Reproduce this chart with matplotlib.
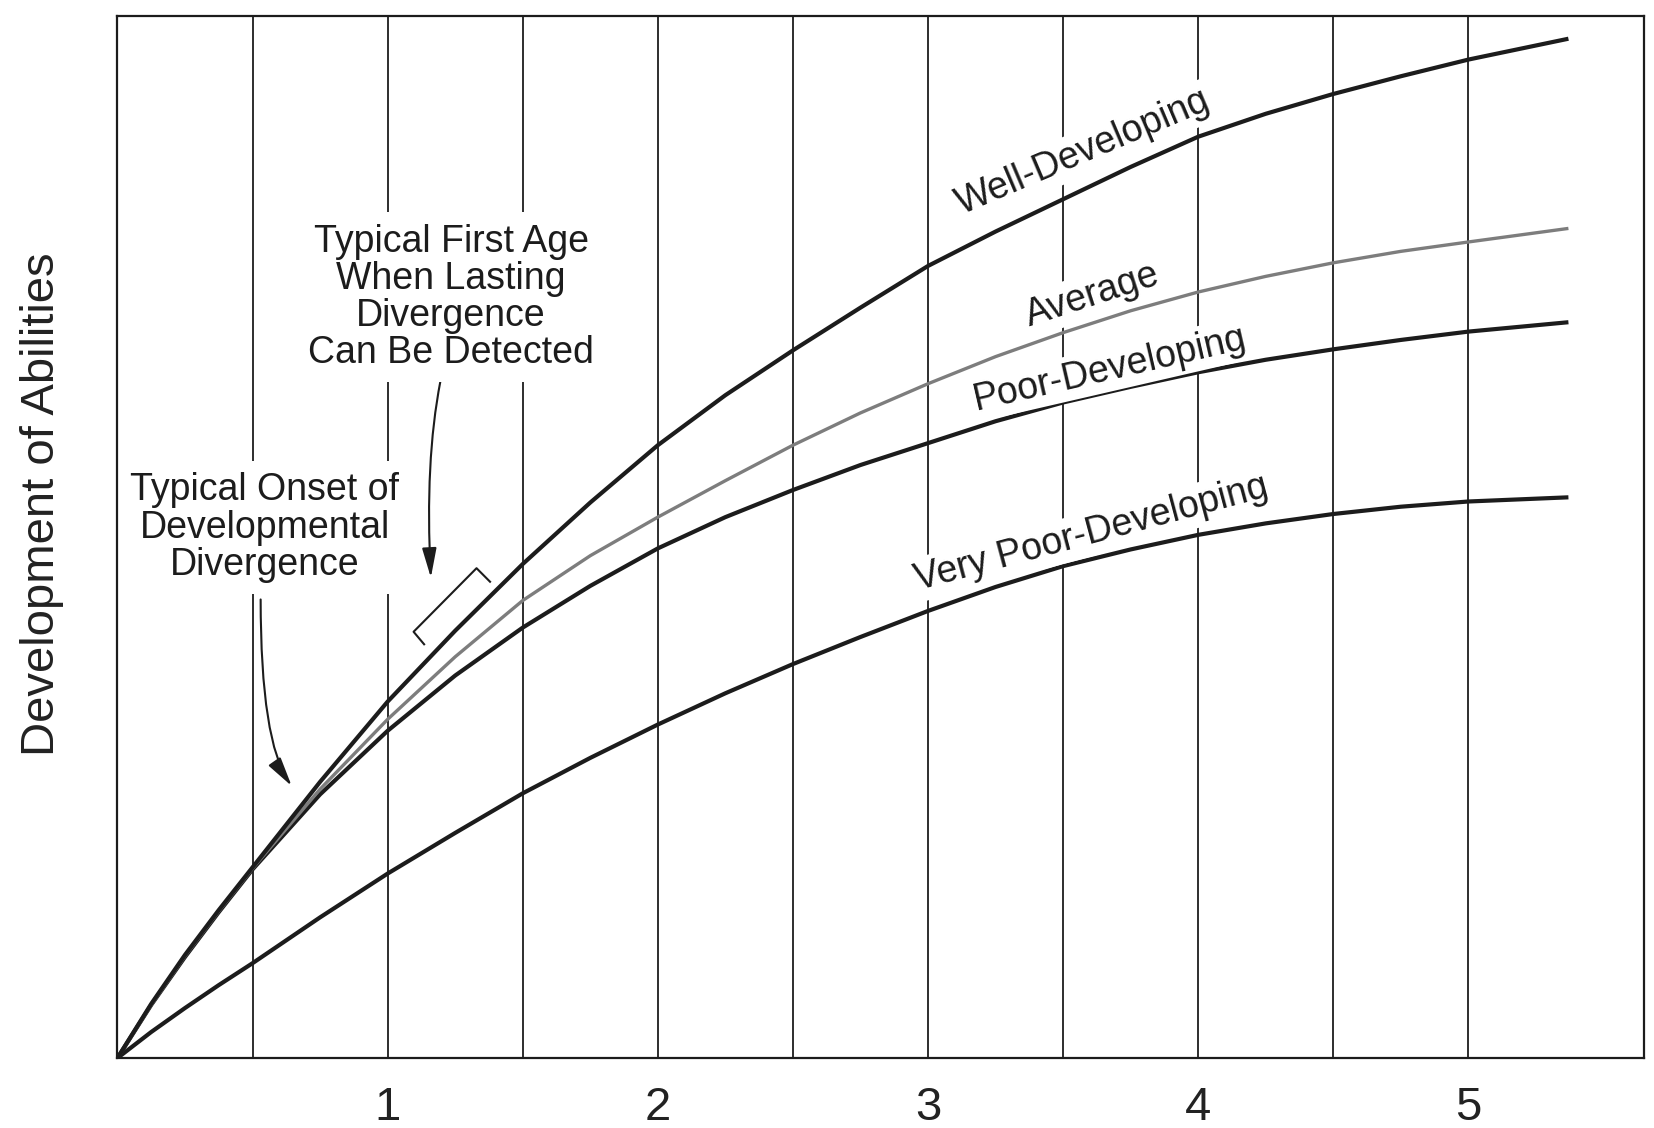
import numpy as np
import matplotlib.pyplot as plt

plt.rcParams['font.family'] = ['Liberation Sans', 'DejaVu Sans']

# age (years) at which curves were read
age = [0, 0.125, 0.25, 0.375, 0.5, 0.75, 1.0, 1.25, 1.5, 1.75, 2.0, 2.25, 2.5, 2.75,
       3.0, 3.25, 3.5, 3.75, 4.0, 4.25, 4.5, 4.75, 5.0, 5.37]

# development of abilities (0 = bottom, 100 = top of frame)
well = [0, 5.2, 9.9, 14.2, 18.3, 26.5, 34.2, 41.0, 47.4, 53.3, 58.8, 63.6, 67.9, 72.0,
        76.0, 79.3, 82.4, 85.5, 88.4, 90.6, 92.5, 94.2, 95.8, 97.8]
average = [0, 5.1, 9.8, 14.1, 18.2, 25.8, 32.5, 38.5, 43.9, 48.2, 51.9, 55.4, 58.8, 61.9,
           64.7, 67.3, 69.6, 71.7, 73.5, 75.0, 76.3, 77.4, 78.3, 79.6]
poor = [0, 5.1, 9.7, 14.0, 18.1, 25.3, 31.4, 36.7, 41.3, 45.3, 48.9, 51.9, 54.5, 56.9,
        59.0, 61.1, 62.9, 64.4, 65.8, 67.0, 68.0, 68.9, 69.7, 70.6]
very_poor = [0, 2.5, 4.8, 7.0, 9.1, 13.5, 17.7, 21.6, 25.4, 28.8, 32.0, 35.0, 37.8, 40.4,
             42.9, 45.2, 47.2, 48.8, 50.2, 51.3, 52.2, 52.9, 53.4, 53.8]

grid_x = [0.5, 1.0, 1.5, 2.0, 2.5, 3.0, 3.5, 4.0, 4.5, 5.0]
tick_x = [1, 2, 3, 4, 5]
tick_labels = ['1', '2', '3', '4', '5']

ink = '#1c1c1c'

fig = plt.figure(figsize=(16.54, 11.28), dpi=100)
ax = fig.add_axes([0.071, 0.062, 0.923, 0.924])
ax.set_xlim(0, 5.65)
ax.set_ylim(0, 100)

for gx in grid_x:
    ax.axvline(gx, color=ink, lw=1.3, zorder=1)

ax.plot(age, very_poor, color=ink, lw=3.0, zorder=3, solid_capstyle='butt')
ax.plot(age, poor, color=ink, lw=3.0, zorder=3, solid_capstyle='butt')
ax.plot(age, average, color='#7d7d7d', lw=2.4, zorder=3, solid_capstyle='butt')
ax.plot(age, well, color=ink, lw=3.0, zorder=4, solid_capstyle='butt')

for s in ax.spines.values():
    s.set_linewidth(1.6)
    s.set_color(ink)

ax.set_xticks(tick_x)
ax.set_xticklabels(tick_labels, fontsize=34, color='#222222')
ax.tick_params(axis='x', length=0, pad=20)
ax.set_yticks([])

fig.text(0.0255, 0.553, 'Development of Abilities', rotation=90,
         ha='center', va='center', fontsize=34, color='#222222')

box = dict(facecolor='white', edgecolor='none', pad=3)
lab = dict(fontsize=27, color=ink, ha='center', va='center',
           rotation_mode='anchor', bbox=box, zorder=5)
ax.text(3.575, 86.9, 'Well-Developing', rotation=23, **lab)
ax.text(3.607, 73.2, 'Average', rotation=18, **lab)
ax.text(3.672, 66.1, 'Poor-Developing', rotation=13, **lab)
ax.text(3.603, 50.3, 'Very Poor-Developing', rotation=15, **lab)

ax.text(1.235, 73.0, 'Typical First Age\nWhen Lasting\nDivergence\nCan Be Detected',
        fontsize=27, color=ink, ha='center', va='center', linespacing=1.04,
        bbox=dict(facecolor='white', edgecolor='none', pad=8), zorder=5)
ax.text(0.545, 50.9, 'Typical Onset of\nDevelopmental\nDivergence',
        fontsize=27, color=ink, ha='center', va='center', linespacing=1.04,
        bbox=dict(facecolor='white', edgecolor='none', pad=8), zorder=5)

arrow = dict(arrowstyle='-|>,head_length=0.9,head_width=0.22', color=ink,
             lw=1.5, shrinkA=0, shrinkB=0, mutation_scale=20)
ax.annotate('', xy=(0.645, 26.1), xytext=(0.53, 44.0),
            arrowprops=dict(connectionstyle='angle3,angleA=90,angleB=-55', **arrow))
ax.annotate('', xy=(1.16, 46.1), xytext=(1.195, 64.9),
            arrowprops=dict(connectionstyle='angle3,angleA=79,angleB=93', **arrow))

# bracket marking the age range
bracket_x = [1.135, 1.096, 1.329, 1.379]
bracket_y = [39.7, 40.9, 47.0, 45.7]
ax.plot(bracket_x, bracket_y, color=ink, lw=1.5, zorder=4)

fig.savefig('out.png', dpi=100, facecolor='white')
